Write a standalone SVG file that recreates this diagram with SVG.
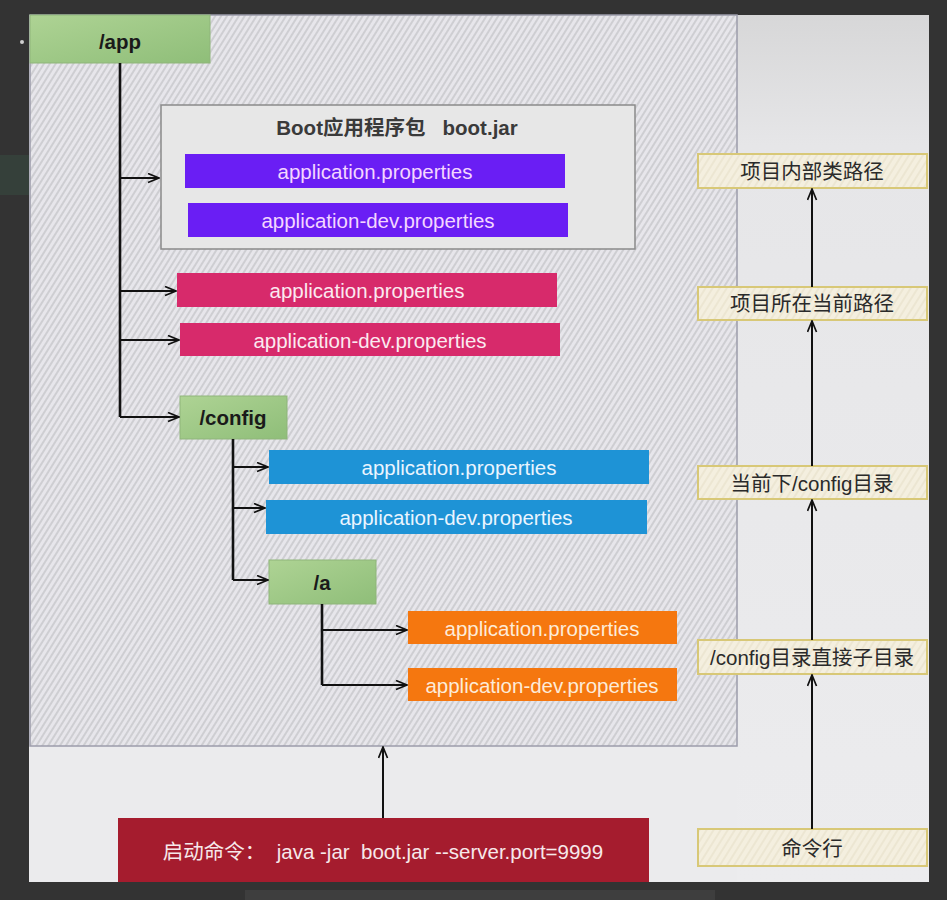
<svg xmlns="http://www.w3.org/2000/svg" width="947" height="900" viewBox="0 0 947 900">
<defs>
<style>
.t{font-family:"Liberation Sans","Noto Sans CJK SC",sans-serif;font-size:20.5px;text-anchor:middle;dominant-baseline:central;white-space:pre}
.b{font-weight:bold;fill:#1a1a1a}
.g{fill:url(#green);stroke:#8fb57a;stroke-width:1}
.y{fill:url(#hatchc);stroke:#d8c877;stroke-width:2}
.c{fill:none;stroke:#111;stroke-width:2}
.cv{fill:none;stroke:#111;stroke-width:2.6}
</style>
<pattern id="hatch" width="5" height="5" patternUnits="userSpaceOnUse" patternTransform="rotate(32)">
<rect width="5" height="5" fill="#e7e6eb"/>
<line x1="1" y1="0" x2="1" y2="5" stroke="#c6c6ca" stroke-width="1.5"/>
</pattern>
<pattern id="hatchc" width="6" height="6" patternUnits="userSpaceOnUse" patternTransform="rotate(32)">
<rect width="6" height="6" fill="#f4efdf"/>
<line x1="1" y1="0" x2="1" y2="6" stroke="#e8e0ca" stroke-width="1.2"/>
</pattern>
<linearGradient id="green" x1="0" y1="0" x2="1" y2="1">
<stop offset="0" stop-color="#aed394"/>
<stop offset="1" stop-color="#8fbe79"/>
</linearGradient>
<linearGradient id="rpanel" x1="0" y1="0" x2="0" y2="1">
<stop offset="0" stop-color="#d7d7d8"/>
<stop offset="0.15" stop-color="#e6e6e8"/>
<stop offset="1" stop-color="#ececee"/>
</linearGradient>
<marker id="ah" markerWidth="13" markerHeight="11" refX="12" refY="5.5" orient="auto" markerUnits="userSpaceOnUse">
<path d="M1,1 L12,5.5 L1,10" fill="none" stroke="#111" stroke-width="1.7"/>
</marker>
</defs>

<rect x="0" y="0" width="947" height="900" fill="#333333"/>
<rect x="0" y="155" width="29" height="40" fill="#35403a"/>
<circle cx="22" cy="42" r="2" fill="#cfcfcf"/>
<rect x="245" y="890" width="470" height="10" fill="#3e3e3e"/>

<rect x="29" y="15" width="900" height="867" fill="#ebebed"/>
<rect x="737" y="15" width="192" height="867" fill="url(#rpanel)"/>
<rect id="region" x="30" y="15" width="707" height="731" fill="url(#hatch)" stroke="#9c9cab" stroke-width="1.5"/>

<g id="app"><rect class="g" x="30" y="15" width="180" height="48"/><text class="t b" x="120" y="41">/app</text></g>

<g id="bootjar">
<rect x="161" y="105" width="474" height="144" fill="#e7e7e7" stroke="#8a8a8a" stroke-width="1.5"/>
<text class="t b" x="397" y="127" style="fill:#3a3a3a">Boot应用程序包   boot.jar</text>
</g>
<g id="p1"><rect x="185" y="154" width="380" height="34" fill="#6a1ef4"/><text class="t" x="375" y="171" fill="#f4d6ff">application.properties</text></g>
<g id="p2"><rect x="188" y="203" width="380" height="34" fill="#6a1ef4"/><text class="t" x="378" y="220" fill="#f4d6ff">application-dev.properties</text></g>
<g id="r1"><rect x="177" y="273" width="380" height="34" fill="#d72a6b"/><text class="t" x="367" y="290" fill="#fbe9f0">application.properties</text></g>
<g id="r2"><rect x="180" y="323" width="380" height="33" fill="#d72a6b"/><text class="t" x="370" y="340" fill="#fbe9f0">application-dev.properties</text></g>
<g id="config"><rect class="g" x="180" y="396" width="107" height="43"/><text class="t b" x="233" y="417">/config</text></g>
<g id="b1"><rect x="269" y="450" width="380" height="34" fill="#1e93d6"/><text class="t" x="459" y="467" fill="#eaf5ff">application.properties</text></g>
<g id="b2"><rect x="266" y="500" width="381" height="34" fill="#1e93d6"/><text class="t" x="456" y="517" fill="#eaf5ff">application-dev.properties</text></g>
<g id="a"><rect class="g" x="269" y="560" width="107" height="44"/><text class="t b" x="322" y="582">/a</text></g>
<g id="o1"><rect x="408" y="611" width="269" height="33" fill="#f5770f"/><text class="t" x="542" y="628" fill="#fdebd8">application.properties</text></g>
<g id="o2"><rect x="408" y="668" width="269" height="33" fill="#f5770f"/><text class="t" x="542" y="685" fill="#fdebd8">application-dev.properties</text></g>

<g id="cmd"><rect x="118" y="818" width="531" height="64" fill="#a51c2e"/><text class="t" x="383" y="851" fill="#f7e8ea">启动命令：  java -jar  boot.jar --server.port=9999</text></g>

<g id="y1"><rect class="y" x="698" y="154" width="229" height="34"/><text class="t" x="812" y="171" fill="#2a2a2a">项目内部类路径</text></g>
<g id="y2"><rect class="y" x="698" y="287" width="229" height="33"/><text class="t" x="812" y="303" fill="#2a2a2a">项目所在当前路径</text></g>
<g id="y3"><rect class="y" x="698" y="466" width="229" height="33"/><text class="t" x="812" y="483" fill="#2a2a2a">当前下/config目录</text></g>
<g id="y4"><rect class="y" x="698" y="640" width="229" height="34"/><text class="t" x="812" y="657" fill="#2a2a2a">/config目录直接子目录</text></g>
<g id="y5"><rect class="y" x="698" y="829" width="229" height="37"/><text class="t" x="812" y="848" fill="#2a2a2a">命令行</text></g>

<g id="connectors">
<path class="cv" d="M120,63 V417"/>
<path class="c" d="M120,178 H159" marker-end="url(#ah)"/>
<path class="c" d="M120,291 H176" marker-end="url(#ah)"/>
<path class="c" d="M120,340 H179" marker-end="url(#ah)"/>
<path class="c" d="M120,417 H179" marker-end="url(#ah)"/>
<path class="cv" d="M233,439 V580"/>
<path class="c" d="M233,467 H268" marker-end="url(#ah)"/>
<path class="c" d="M233,508 H265" marker-end="url(#ah)"/>
<path class="c" d="M233,580 H268" marker-end="url(#ah)"/>
<path class="cv" d="M322,604 V685"/>
<path class="c" d="M322,630 H407" marker-end="url(#ah)"/>
<path class="c" d="M322,685 H407" marker-end="url(#ah)"/>
<path class="c" d="M383,818 V747" marker-end="url(#ah)"/>
<path class="c" d="M812,829 V675" marker-end="url(#ah)"/>
<path class="c" d="M812,640 V500" marker-end="url(#ah)"/>
<path class="c" d="M812,466 V321" marker-end="url(#ah)"/>
<path class="c" d="M812,287 V189" marker-end="url(#ah)"/>
</g>
</svg>
